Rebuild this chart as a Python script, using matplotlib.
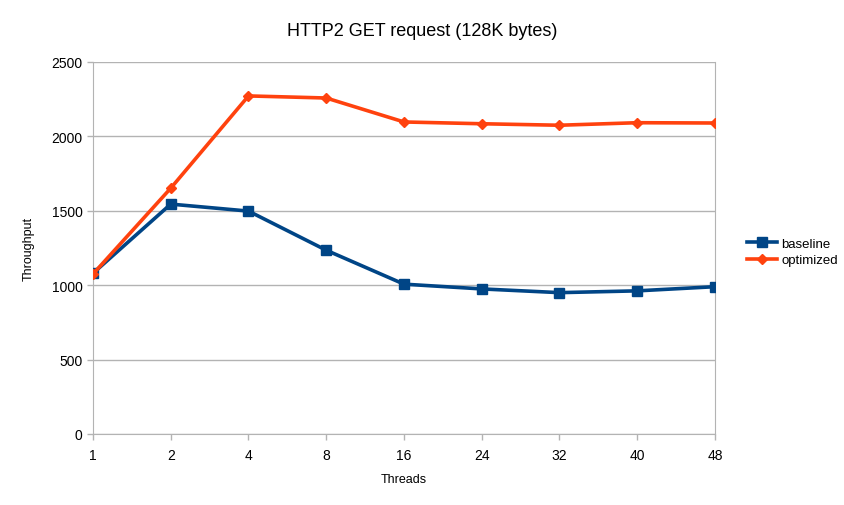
import matplotlib
matplotlib.use("Agg")
import matplotlib.pyplot as plt
import numpy as np

plt.rcParams['font.family'] = ['Liberation Sans', 'DejaVu Sans']

threads = ['1', '2', '4', '8', '16', '24', '32', '40', '48']
baseline = [1080, 1545, 1498, 1235, 1007, 975, 950, 962, 990]
optimized = [1075, 1652, 2272, 2258, 2097, 2085, 2075, 2092, 2090]

fig = plt.figure(figsize=(8.45, 5.06), dpi=100)
ax = fig.add_axes([93 / 845, 71 / 506, 622 / 845, 372 / 506])

x = np.arange(len(threads))
ax.plot(x, baseline, color='#004586', lw=2.6, marker='s', ms=7.5, label='baseline', zorder=3)
ax.plot(x, optimized, color='#ff420e', lw=2.6, marker='D', ms=5.5, label='optimized', zorder=3)

ax.set_xlim(0, len(threads) - 1)
ax.set_ylim(0, 2500)
ax.set_xticks(x)
ax.set_xticklabels(threads)
ax.set_yticks(np.arange(0, 2501, 500))
ax.yaxis.grid(True, color='#b3b3b3', lw=1)
ax.set_axisbelow(True)
for s in ['left', 'bottom', 'right']:
    ax.spines[s].set_color('#b3b3b3')
ax.spines['top'].set_visible(False)
ax.tick_params(axis='both', colors='#b3b3b3', labelcolor='black', labelsize=10, length=4, width=1)
ax.tick_params(axis='x', pad=6)

ax.set_xlabel('Threads', fontsize=9, labelpad=8)
ax.set_ylabel('Throughput', fontsize=9, labelpad=12)
fig.suptitle('HTTP2 GET request (128K bytes)', fontsize=13, y=0.955)

fig.legend(*ax.get_legend_handles_labels(), loc='center left',
           bbox_to_anchor=(740 / 845, 1 - 253 / 506), frameon=False, fontsize=9.5,
           handlelength=2.3, handletextpad=0.35, labelspacing=0.3, borderpad=0)

fig.savefig('out.png', dpi=100)
